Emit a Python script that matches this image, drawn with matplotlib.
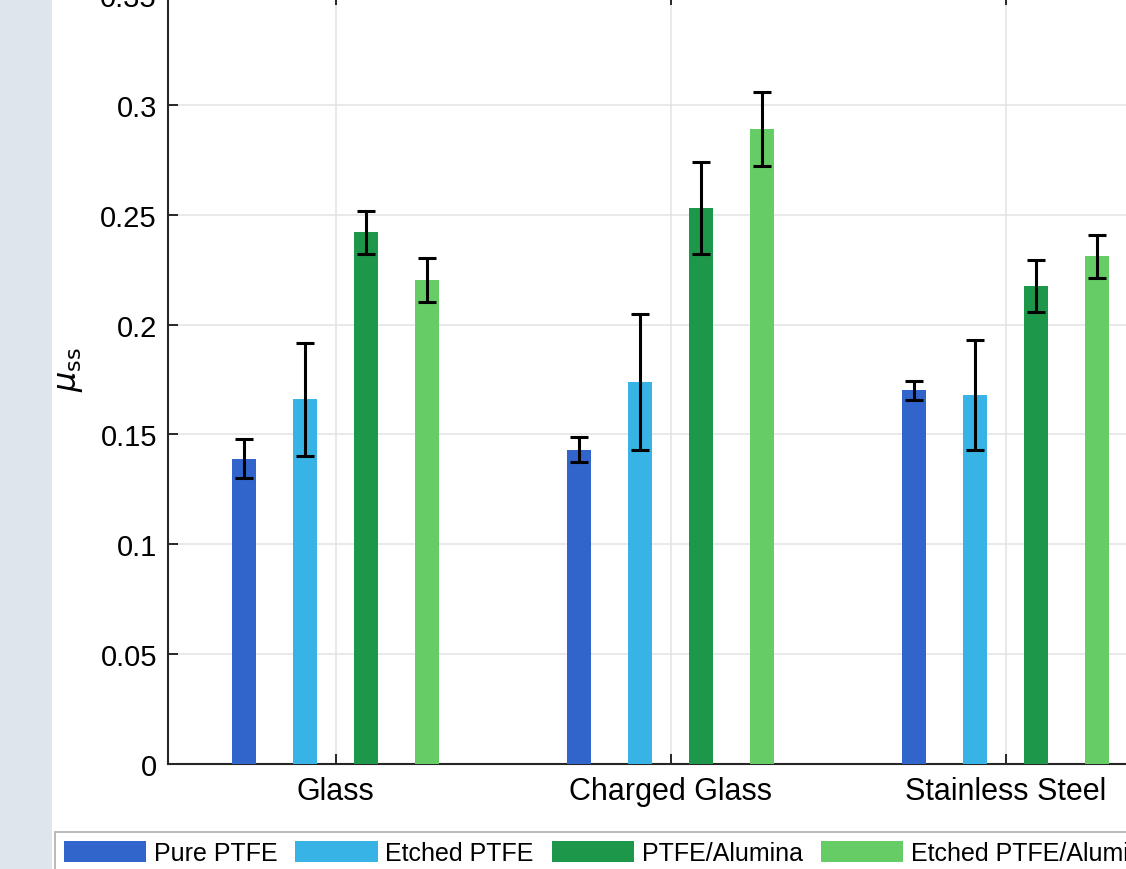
import matplotlib
matplotlib.use("Agg")
import matplotlib.pyplot as plt
from matplotlib.patches import Rectangle
import numpy as np

plt.rcParams["font.family"] = ["Liberation Sans", "DejaVu Sans"]
plt.rcParams["mathtext.fontset"] = "dejavusans"

# данные
surfaces = ["Glass", "Charged Glass", "Stainless Steel"]
coatings = ["Pure PTFE", "Etched PTFE", "PTFE/Alumina", "Etched PTFE/Alumina"]
mu_pure = [0.139, 0.143, 0.170]
mu_etched = [0.166, 0.174, 0.168]
mu_alumina = [0.242, 0.253, 0.2175]
mu_etched_alumina = [0.2205, 0.289, 0.231]
err_pure = [0.0088, 0.0057, 0.0044]
err_etched = [0.0257, 0.031, 0.025]
err_alumina = [0.0097, 0.021, 0.012]
err_etched_alumina = [0.010, 0.017, 0.0096]
yticks = [0, 0.05, 0.1, 0.15, 0.2, 0.25, 0.3, 0.35]
ytick_labels = ["0", "0.05", "0.1", "0.15", "0.2", "0.25", "0.3", "0.35"]

COLORS = ["#3265CB", "#37B3E5", "#1D984A", "#66CC66"]
INK = "#262626"
GRID = "#e3e3e3"

W, H = 1126, 870
fig = plt.figure(figsize=(W / 100, H / 100), dpi=100, facecolor="white")
# полоса слева (фон окна)
fig.patches.append(Rectangle((0, 0), 52 / W, 1, transform=fig.transFigure,
                             facecolor="#dce6ec", edgecolor="none", zorder=0))

ax = fig.add_axes([168 / W, 105 / H, 1005 / W, 769 / H])
ax.set_xlim(0.5, 3.5)
ax.set_ylim(0, 0.35)

x = np.arange(1, len(surfaces) + 1)
step = 0.182
width = 0.070
series = [(mu_pure, err_pure), (mu_etched, err_etched),
          (mu_alumina, err_alumina), (mu_etched_alumina, err_etched_alumina)]
for i, ((vals, errs), name) in enumerate(zip(series, coatings)):
    pos = x + (i - 1.5) * step
    ax.bar(pos, vals, width, color=COLORS[i], label=name, zorder=3,
           edgecolor="none")
    ax.errorbar(pos, vals, yerr=errs, fmt="none", ecolor="black",
                elinewidth=2.2, capsize=6.5, capthick=2.2, zorder=4)

ax.set_xticks(x)
ax.set_xticklabels(surfaces)
ax.set_yticks(yticks)
ax.set_yticklabels(ytick_labels)
ax.tick_params(direction="in", length=7.5, width=1.4, colors=INK,
               labelcolor="black", labelsize=21, top=True, right=True)
ax.tick_params(axis="x", labelsize=22, pad=9)
ax.tick_params(axis="y", pad=8)
ax.grid(True, color=GRID, linewidth=1.1, zorder=0)
ax.set_axisbelow(True)
for s in ax.spines.values():
    s.set_color(INK)
    s.set_linewidth(1.5)

fig.text(70 / W, 1 - 370 / H, r"$\mu_{\rm ss}$", rotation=90,
         ha="center", va="center", fontsize=23, color="black")

leg = fig.legend(loc="upper left", bbox_to_anchor=(55 / W, 1 - 833 / H),
                 ncol=4, fontsize=18, frameon=True, fancybox=False,
                 handlelength=3.3, handleheight=0.9, handletextpad=0.3,
                 columnspacing=0.72, borderpad=0.35, borderaxespad=0)
leg.get_frame().set_edgecolor("#9a9a9a")
leg.get_frame().set_linewidth(1.2)

fig.savefig("out.png", dpi=100, facecolor="white")
plt.close(fig)
